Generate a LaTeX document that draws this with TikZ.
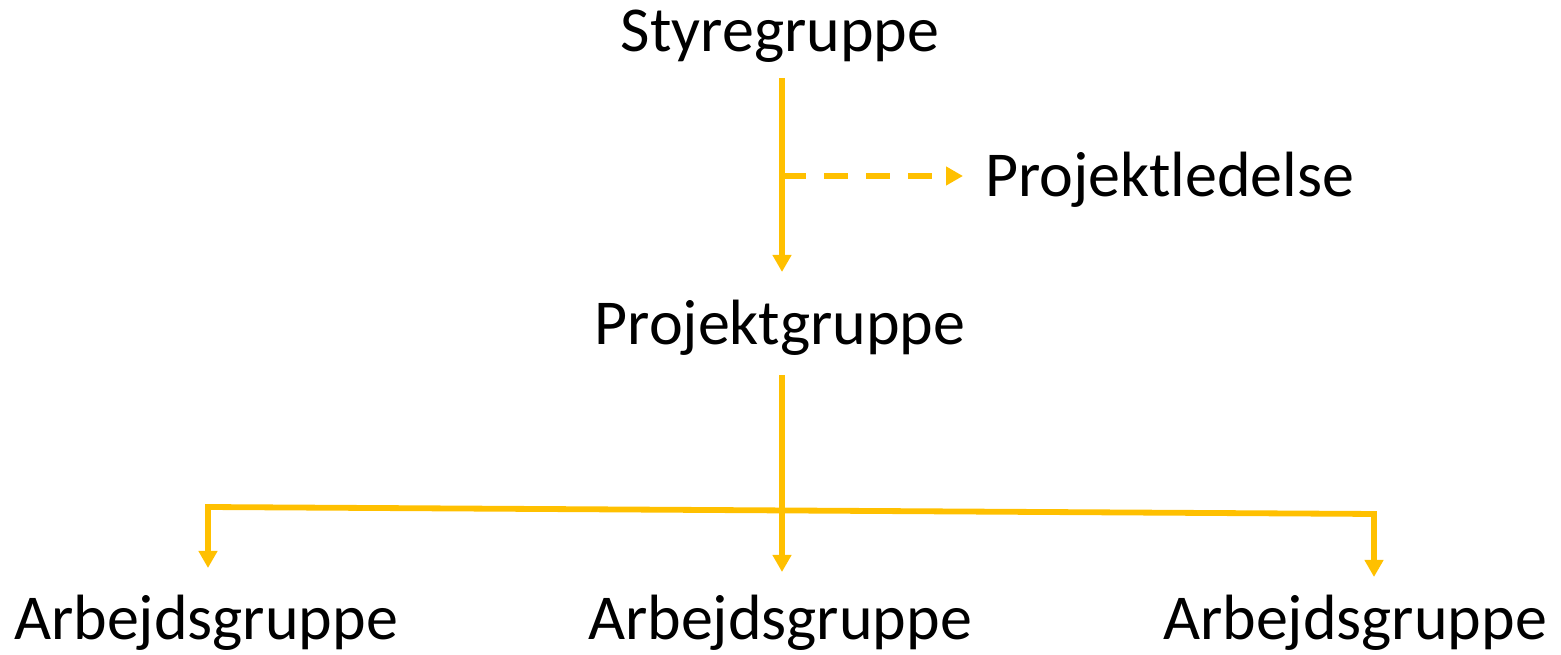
\documentclass[tikz,border=0pt]{standalone}
\usepackage{fontspec}
\setmainfont{Carlito}
\usetikzlibrary{arrows.meta}
\definecolor{gold}{RGB}{255,192,0}
\begin{document}
\begin{tikzpicture}[x=1pt,y=1pt,
  lbl/.style={inner sep=0pt,font=\fontsize{64}{70}\selectfont,anchor=base},
  conn/.style={draw=gold,line width=5.8pt,-{Triangle[length=17pt,width=18pt]}}]
\useasboundingbox (0,0) rectangle (1561,655);
\node[lbl] (sty) at (780,655-52) {Styregruppe};
\node[lbl,anchor=base west] (pl) at (985,655-197) {Projektledelse};
\node[lbl] (pg) at (780,655-345) {Projektgruppe};
\node[lbl] (a1) at (206,655-640) {Arbejdsgruppe};
\node[lbl] (a2) at (780,655-640) {Arbejdsgruppe};
\node[lbl] (a3) at (1355,655-640) {Arbejdsgruppe};
\coordinate (t1) at (782,655-78);
\coordinate (b1) at (782,655-272);
\coordinate (d0) at (782,655-176);
\coordinate (d1) at (963,655-176);
\coordinate (t2) at (782,655-375);
\coordinate (hl) at (208,655-507);
\coordinate (hr) at (1374,655-514);
\coordinate (hm) at (782,655-510.5);
\coordinate (e1) at (208,655-568);
\coordinate (e2) at (782,655-572);
\coordinate (e3) at (1374,655-577);
\draw[conn] (t1) -- (b1);
\draw[conn,dash pattern=on 24pt off 18pt] (d0) -- (d1);
\draw[conn] (t2) -- (e2);
\draw[draw=gold,line width=5.8pt] ([xshift=-2.9pt]hl) -- ([xshift=2.9pt]hr);
\draw[conn] (hl) -- (e1);
\draw[conn] (hr) -- (e3);
\end{tikzpicture}
\end{document}
